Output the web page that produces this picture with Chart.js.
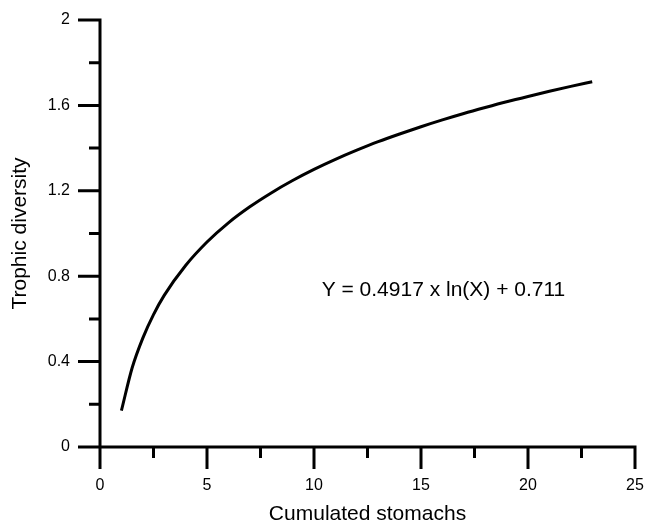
<!DOCTYPE html>
<html>
<head>
<meta charset="utf-8">
<script src="https://cdn.jsdelivr.net/npm/chart.js@4.4.0/dist/chart.umd.min.js"></script>
<style>
  html, body { margin: 0; padding: 0; background: #fff; }
  #wrap { width: 645px; height: 523px; position: relative; }
</style>
</head>
<body>
<div id="wrap"><canvas id="chart"></canvas></div>
<script>
// values
const stomachs  = [1, 1.5, 2, 2.5, 3, 4, 5, 6, 7, 8, 9, 10, 11, 12, 13, 14, 15, 16, 17, 18, 19, 20, 21, 22, 23];
const diversity = [0.170, 0.370, 0.510, 0.620, 0.710, 0.850, 0.960, 1.050, 1.125, 1.190, 1.248, 1.300, 1.347,
                   1.390, 1.430, 1.466, 1.500, 1.532, 1.562, 1.590, 1.617, 1.642, 1.666, 1.689, 1.711];

const xLabels = ['0', '5', '10', '15', '20', '25'];
const yLabels = ['0', '0.4', '0.8', '1.2', '1.6', '2'];
const equation = 'Y = 0.4917 x ln(X) + 0.711';

const FONT = '"Liberation Sans", Helvetica, Arial, sans-serif';

// axis lines with long (major) and short (minor) tick marks
const axisPlugin = {
  id: 'axisTicks',
  afterDraw(chart) {
    const ctx = chart.ctx;
    const xs = chart.scales.x, ys = chart.scales.y;
    const x0 = xs.getPixelForValue(0), y0 = ys.getPixelForValue(0);
    ctx.save();
    ctx.strokeStyle = '#000';
    ctx.lineWidth = 3;
    ctx.lineCap = 'butt';
    ctx.beginPath();
    ctx.moveTo(x0, ys.getPixelForValue(2));
    ctx.lineTo(x0, y0);
    ctx.moveTo(x0, y0);
    ctx.lineTo(xs.getPixelForValue(25), y0);
    xs.ticks.forEach(t => {
      const p = xs.getPixelForValue(t.value);
      const len = t.label !== '' ? 22 : 11;
      ctx.moveTo(p, y0 - 1.5);
      ctx.lineTo(p, y0 + len);
    });
    ys.ticks.forEach(t => {
      const p = ys.getPixelForValue(t.value);
      const len = t.label !== '' ? 22 : 11;
      ctx.moveTo(x0 + 1.5, p);
      ctx.lineTo(x0 - len, p);
    });
    ctx.stroke();

    // fitted equation
    ctx.fillStyle = '#000';
    ctx.font = '21px ' + FONT;
    ctx.textAlign = 'center';
    ctx.textBaseline = 'alphabetic';
    ctx.fillText(equation, xs.getPixelForValue(16.05), ys.getPixelForValue(0.706));
    ctx.restore();
  }
};

const hiddenGrid = len => ({
  display: true,
  drawOnChartArea: false,
  drawTicks: true,
  tickLength: len,
  color: 'rgba(0,0,0,0)'
});

new Chart(document.getElementById('chart'), {
  type: 'line',
  data: {
    datasets: [{
      data: stomachs.map((x, i) => ({ x: x, y: diversity[i] })),
      borderColor: '#000',
      borderWidth: 3,
      pointRadius: 0,
      fill: false,
      cubicInterpolationMode: 'monotone'
    }]
  },
  options: {
    responsive: true,
    maintainAspectRatio: false,
    animation: false,
    layout: { padding: { top: 20, right: 10, left: 0, bottom: 0 } },
    plugins: { legend: { display: false }, tooltip: { enabled: false } },
    scales: {
      x: {
        type: 'linear',
        min: 0, max: 25,
        border: { display: false },
        grid: hiddenGrid(29),
        ticks: {
          stepSize: 2.5,
          autoSkip: false,
          maxRotation: 0,
          padding: 0,
          color: '#000',
          font: { family: FONT, size: 16 },
          callback: v => {
            const s = String(Math.round(v * 10) / 10);
            return xLabels.includes(s) ? s : '';
          }
        },
        title: {
          display: true,
          text: 'Cumulated stomachs',
          color: '#000',
          font: { family: FONT, size: 21, lineHeight: 0.85 },
          padding: { top: 0, bottom: 0 }
        },
        afterFit: s => { s.height = 76; }
      },
      y: {
        min: 0, max: 2,
        border: { display: false },
        grid: hiddenGrid(30),
        ticks: {
          stepSize: 0.2,
          autoSkip: false,
          padding: 0,
          color: '#000',
          font: { family: FONT, size: 16 },
          callback: v => {
            const s = String(Math.round(v * 10) / 10);
            return yLabels.includes(s) ? s : '';
          }
        },
        title: {
          display: true,
          text: 'Trophic diversity',
          color: '#000',
          font: { family: FONT, size: 21, lineHeight: 1.2 },
          padding: { top: 8, bottom: 0 }
        },
        afterFit: s => { s.width = 100; }
      }
    }
  },
  plugins: [axisPlugin]
});
</script>
</body>
</html>
